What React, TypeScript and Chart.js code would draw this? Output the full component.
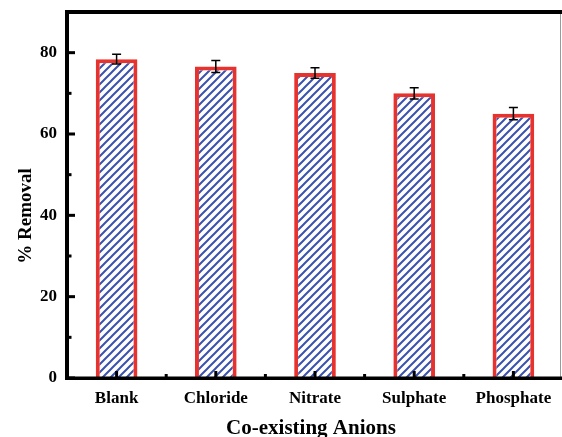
import React, { useEffect, useRef } from 'react';
import { Chart, registerables } from 'chart.js';

Chart.register(...registerables);

const categories = ['Blank', 'Chloride', 'Nitrate', 'Sulphate', 'Phosphate'];
const removal = [78.4, 76.6, 75.0, 70.0, 65.0];
const errorValues = [1.2, 1.5, 1.3, 1.4, 1.5];
const yMajorTicks = [0, 20, 40, 60, 80];
const yMinorTicks = [10, 30, 50, 70];
const yTitle = '% Removal';
const xTitle = 'Co-existing Anions';

const FONT = '"Liberation Serif", "Times New Roman", serif';
const RED = '#e8322d';
const BLUE = '#3a52ad';

function makeHatch(): CanvasPattern | string {
  const s = 8;
  const c = document.createElement('canvas');
  c.width = s;
  c.height = s;
  const ctx = c.getContext('2d');
  if (!ctx) return BLUE;
  ctx.fillStyle = '#ffffff';
  ctx.fillRect(0, 0, s, s);
  ctx.strokeStyle = BLUE;
  ctx.lineWidth = 2;
  ctx.beginPath();
  ctx.moveTo(-1, s + 1);
  ctx.lineTo(s + 1, -1);
  ctx.moveTo(-2, 2);
  ctx.lineTo(2, -2);
  ctx.moveTo(s - 2, s + 2);
  ctx.lineTo(s + 2, s - 2);
  ctx.stroke();
  return ctx.createPattern(c, 'repeat') || BLUE;
}

const decorPlugin = {
  id: 'decor',
  afterDatasetsDraw(chart: any) {
    const { ctx, chartArea, scales } = chart;
    const x = scales.x;
    const y = scales.y;
    const { left, right, top, bottom } = chartArea;
    ctx.save();

    // error bars
    ctx.strokeStyle = '#000';
    ctx.lineWidth = 1.5;
    removal.forEach((v, i) => {
      const px = x.getPixelForValue(i);
      const pt = y.getPixelForValue(v + errorValues[i]);
      const pb = y.getPixelForValue(v - errorValues[i]);
      ctx.beginPath();
      ctx.moveTo(px, pt);
      ctx.lineTo(px, pb);
      ctx.moveTo(px - 4.5, pt);
      ctx.lineTo(px + 4.5, pt);
      ctx.moveTo(px - 4.5, pb);
      ctx.lineTo(px + 4.5, pb);
      ctx.stroke();
    });

    // right thin border
    ctx.fillStyle = '#9a9a9a';
    ctx.fillRect(560, top, 1, bottom - top);
    ctx.fillStyle = '#000';
    // axes
    ctx.fillRect(left - 2, top - 2, 4, bottom - top + 4);
    ctx.fillRect(left - 2, bottom - 1.5, right - left + 10, 3.5);
    ctx.fillRect(left - 2, top - 2, right - left + 10, 4);

    // y ticks (inward)
    yMajorTicks.forEach((t) => {
      const py = y.getPixelForValue(t);
      ctx.fillRect(left, py - 1.5, 8, 3);
    });
    yMinorTicks.forEach((t) => {
      const py = y.getPixelForValue(t);
      ctx.fillRect(left, py - 1.5, 4.5, 3);
    });
    // x ticks (inward)
    categories.forEach((_, i) => {
      const px = x.getPixelForValue(i);
      ctx.fillRect(px - 1.5, bottom - 7, 3, 7);
    });
    for (let i = 1; i < categories.length; i++) {
      const px = (x.getPixelForValue(i - 1) + x.getPixelForValue(i)) / 2;
      ctx.fillRect(px - 1.5, bottom - 4, 3, 4);
    }

    // titles
    ctx.fillStyle = '#000';
    ctx.font = `bold 19px ${FONT}`;
    ctx.textAlign = 'center';
    ctx.textBaseline = 'alphabetic';
    ctx.save();
    ctx.translate(31, 216);
    ctx.rotate(-Math.PI / 2);
    ctx.fillText(yTitle, 0, 0);
    ctx.restore();

    ctx.font = `bold 21px ${FONT}`;
    ctx.fillText(xTitle, 311, 434);

    ctx.restore();
  },
};

export default function App() {
  const canvasRef = useRef<HTMLCanvasElement | null>(null);

  useEffect(() => {
    document.body.style.margin = '0';
    document.body.style.overflow = 'hidden';
    const canvas = canvasRef.current;
    if (!canvas) return;
    const hatch = makeHatch();
    const tickFont = { family: FONT, size: 17, weight: 'bold' as const };
    const chart = new Chart(canvas, {
      type: 'bar',
      data: {
        labels: categories,
        datasets: [
          {
            data: removal,
            backgroundColor: hatch as any,
            borderColor: RED,
            borderWidth: 4,
            borderSkipped: 'start',
            barPercentage: 0.42,
            categoryPercentage: 1,
          },
        ],
      },
      options: {
        responsive: false,
        animation: false,
        devicePixelRatio: 1,
        layout: { padding: { top: 12, right: 7, left: 0, bottom: 0 } },
        plugins: {
          legend: { display: false },
          tooltip: { enabled: false },
          title: { display: false },
        },
        scales: {
          x: {
            type: 'category',
            grid: { display: false, drawTicks: false },
            border: { display: false },
            ticks: { font: tickFont, color: '#000', padding: 10, maxRotation: 0 },
            afterFit: (scale: any) => {
              scale.height = 59;
              scale.paddingLeft = 0;
              scale.paddingRight = 0;
            },
          },
          y: {
            type: 'linear',
            min: 0,
            max: 90,
            grid: { display: false, drawTicks: false },
            border: { display: false },
            ticks: {
              stepSize: 10,
              font: tickFont,
              color: '#000',
              padding: 10,
              callback: (v: any) => (Number(v) % 20 === 0 && Number(v) <= 80 ? String(v) : ''),
            },
            afterFit: (scale: any) => {
              scale.width = 67;
              scale.paddingTop = 0;
              scale.paddingBottom = 0;
            },
          },
        },
      },
      plugins: [decorPlugin],
    });
    return () => chart.destroy();
  }, []);

  return (
    <div style={{ position: 'relative', width: 562, height: 437, overflow: 'hidden' }}>
      <canvas ref={canvasRef} width={570} height={437} style={{ display: 'block' }} />
    </div>
  );
}
